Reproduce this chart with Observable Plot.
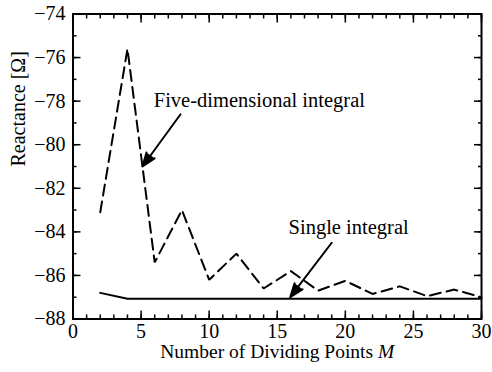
<!DOCTYPE html>
<html>
<head>
<meta charset="utf-8">
<script src="https://cdn.jsdelivr.net/npm/d3@7"></script>
<script src="https://cdn.jsdelivr.net/npm/@observablehq/plot@0.6"></script>
<style>
  html, body { margin: 0; padding: 0; background: white; }
  svg text { font-family: "Liberation Serif", "Times New Roman", serif !important; }
</style>
</head>
<body>
<div id="chart"></div>
<script>
// Data
const M = [2, 4, 6, 8, 10, 12, 14, 16, 18, 20, 22, 24, 26, 28, 30];
const fiveDim = [-83.1, -75.6, -85.4, -83.0, -86.2, -85.0, -86.6, -85.8, -86.7, -86.25, -86.85, -86.5, -86.95, -86.65, -87.0];
const single = [-86.8, -87.07, -87.07, -87.07, -87.07, -87.07, -87.07, -87.07, -87.07, -87.07, -87.07, -87.07, -87.07, -87.07, -87.07];

const xMajor = [0, 5, 10, 15, 20, 25, 30];
const yMajor = [-88, -86, -84, -82, -80, -78, -76, -74];

const annLabels = ["Five-dimensional integral", "Single integral"];
const annX = [5.93, 15.83];
const annY = [-78.28, -84.09];
const arrX1 = [7.9, 19.0];
const arrY1 = [-78.6, -84.5];
const arrX2 = [5.1, 15.95];
const arrY2 = [-81.0, -87.0];

const xTitle = "Number of Dividing Points M";
const yTitle = "Reactance [Ω]";

const fiveData = M.map((m, i) => ({m, v: fiveDim[i]}));
const singleData = M.map((m, i) => ({m, v: single[i]}));
const ann = annLabels.map((t, i) => ({t, x: annX[i], y: annY[i]}));
const arrows = arrX1.map((x1, i) => ({x1, y1: arrY1[i], x2: arrX2[i], y2: arrY2[i]}));
const xMinor = d3.range(0, 31, 1);
const yMinor = d3.range(-88, -73, 1);

const noText = () => "";
const FF = "'Liberation Serif', 'Times New Roman', serif";

const plot = Plot.plot({
  width: 492,
  height: 372,
  marginLeft: 72.5,
  marginRight: 11,
  marginTop: 13.5,
  marginBottom: 53.5,
  style: {fontFamily: FF, fontSize: "20px", color: "black", background: "white"},
  x: {domain: [0, 30]},
  y: {domain: [-88, -74]},
  marks: [
    // bottom axis
    Plot.axisX(xMajor, {anchor: "bottom", tickSize: -8, tickPadding: 13, fontSize: 20, fontFamily: FF, strokeWidth: 1.5, label: null}),
    Plot.axisX(xMinor, {anchor: "bottom", tickSize: -4, tickFormat: noText, strokeWidth: 1.5, label: null}),
    // top axis
    Plot.axisX(xMajor, {anchor: "top", tickSize: -8, tickFormat: noText, strokeWidth: 1.5, label: null}),
    Plot.axisX(xMinor, {anchor: "top", tickSize: -4, tickFormat: noText, strokeWidth: 1.5, label: null}),
    // left axis
    Plot.axisY(yMajor, {anchor: "left", tickSize: -8, tickPadding: 15.5, fontSize: 20, fontFamily: FF, strokeWidth: 1.5, label: null}),
    Plot.axisY(yMinor, {anchor: "left", tickSize: -4, tickFormat: noText, strokeWidth: 1.5, label: null}),
    // right axis
    Plot.axisY(yMajor, {anchor: "right", tickSize: -8, tickFormat: noText, strokeWidth: 1.5, label: null}),
    Plot.axisY(yMinor, {anchor: "right", tickSize: -4, tickFormat: noText, strokeWidth: 1.5, label: null}),
    Plot.frame({stroke: "black", strokeWidth: 2}),
    // axis titles
    Plot.text([xTitle], {text: d => d, frameAnchor: "bottom", dy: 38.5, lineAnchor: "bottom", fontSize: 19.5, fontFamily: FF, fill: "black"}),
    Plot.text([yTitle], {text: d => d, frameAnchor: "left", rotate: -90, dx: -48.5, lineAnchor: "bottom", fontSize: 20, fontFamily: FF, fill: "black"}),
    // data
    Plot.line(fiveData, {x: "m", y: "v", stroke: "black", strokeWidth: 2, strokeDasharray: "11,6", strokeLinejoin: "miter"}),
    Plot.line(singleData, {x: "m", y: "v", stroke: "black", strokeWidth: 2}),
    // annotations
    Plot.text(ann, {x: "x", y: "y", text: "t", textAnchor: "start", lineAnchor: "bottom", fontSize: 20.5, fontFamily: FF, fill: "black"}),
    Plot.arrow(arrows, {x1: "x1", y1: "y1", x2: "x2", y2: "y2", stroke: "black", fill: "black", strokeWidth: 2, headLength: 11, headAngle: 40})
  ]
});

// italic M in the x title
d3.select(plot).selectAll("text").each(function() {
  if (this.textContent === xTitle) {
    const el = d3.select(this);
    el.text("");
    el.append("tspan").text("Number of Dividing Points ");
    el.append("tspan").attr("font-style", "italic").text("M");
  }
});

document.getElementById("chart").appendChild(plot);
</script>
</body>
</html>
